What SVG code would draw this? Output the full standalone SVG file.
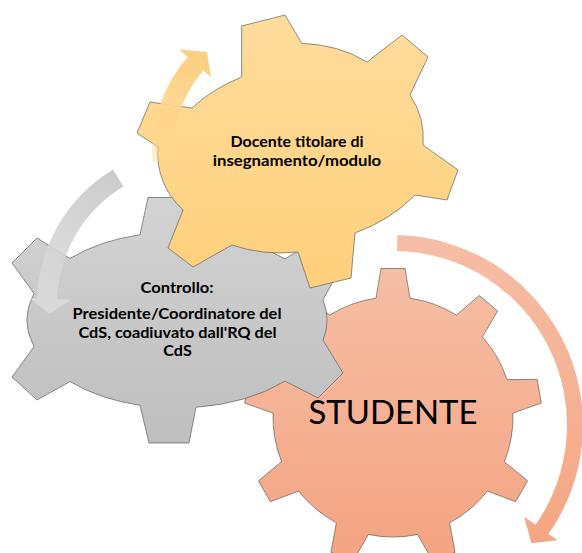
<svg xmlns="http://www.w3.org/2000/svg" width="582" height="553" viewBox="0 0 582 553">
  <defs>
    <linearGradient id="gOrange" x1="0" y1="0" x2="0" y2="1">
      <stop offset="0" stop-color="#F6BEA5"/>
      <stop offset="1" stop-color="#F4A481"/>
    </linearGradient>
    <linearGradient id="gYellow" x1="0" y1="0" x2="0" y2="1">
      <stop offset="0" stop-color="#FFDC9C"/>
      <stop offset="1" stop-color="#FFD07B"/>
    </linearGradient>
    <linearGradient id="gGrey" x1="0" y1="0" x2="0" y2="1">
      <stop offset="0" stop-color="#D3D3D3"/>
      <stop offset="1" stop-color="#BEBEBE"/>
    </linearGradient>
    <linearGradient id="aOrange" gradientUnits="userSpaceOnUse" x1="0" y1="235" x2="0" y2="545">
      <stop offset="0" stop-color="#F6BEA6"/>
      <stop offset="1" stop-color="#F4A683"/>
    </linearGradient>
    <linearGradient id="aYellow" gradientUnits="userSpaceOnUse" x1="163" y1="162" x2="195" y2="60">
      <stop offset="0" stop-color="#FFD68A" stop-opacity="0.4"/>
      <stop offset="0.5" stop-color="#FED48A" stop-opacity="0.9"/>
      <stop offset="1" stop-color="#FCCF82" stop-opacity="1"/>
    </linearGradient>
    <linearGradient id="aGrey" gradientUnits="userSpaceOnUse" x1="118" y1="178" x2="45" y2="300">
      <stop offset="0" stop-color="#C9C9C9" stop-opacity="0.95"/>
      <stop offset="1" stop-color="#DCDCDC" stop-opacity="0.85"/>
    </linearGradient>
  </defs>
  <style>
    .gear { stroke: #5a5a5a; stroke-width: 0.8; stroke-opacity: 0.85; stroke-linejoin: miter; }
    .lbl { font-family: Lato, "Open Sans", "Liberation Sans", sans-serif; font-weight: bold; font-size: 15.5px; fill: #000; text-anchor: middle; }
    .big { font-family: Lato, "Open Sans", "Liberation Sans", sans-serif; font-size: 33.5px; fill: #000; text-anchor: middle; }
    .arrow { stroke: none; }
  </style>

  <g id="gear-studente">
    <path class="gear" fill="url(#gOrange)" d="M376,298.2 L381,268.5 L405,268.5 L410,298.2 A120,120 0 0 1 456.35,315.07 L479.26,295.54 L497.64,310.96 L482.39,336.93 A120,120 0 0 1 507.05,379.63 L537.16,379.4 L541.32,403.04 L512.95,413.11 A120,120 0 0 1 504.38,461.68 L527.6,480.86 L515.6,501.64 L487.38,491.12 A120,120 0 0 1 449.6,522.83 L455.07,552.45 L432.51,560.65 L417.66,534.45 A120,120 0 0 1 368.34,534.45 L353.49,560.65 L330.93,552.45 L336.4,522.83 A120,120 0 0 1 298.62,491.12 L270.4,501.64 L258.4,480.86 L281.62,461.68 A120,120 0 0 1 273.05,413.11 L244.68,403.04 L248.84,379.4 L278.95,379.63 A120,120 0 0 1 303.61,336.93 L288.36,310.96 L306.74,295.54 L329.65,315.07 A120,120 0 0 1 376,298.2 Z"/>
    <text class="big" x="393" y="424" textLength="169" lengthAdjust="spacingAndGlyphs">STUDENTE</text>
  </g>

  <g id="gear-controllo">
    <path class="gear" fill="url(#gGrey)" d="M140,234.7 L148,197.5 L180,197.5 L188,232.6 A150,88 0 0 1 285,258.9 L318,239 L343,264 L323,299.7 A150,88 0 0 1 323,340.3 L343,373 L318,398 L285,381.1 A150,88 0 0 1 196,407.3 L189,443 L149,443 L140,405.3 A150,88 0 0 1 70,381.6 L37,400 L12,377 L34,346.6 A150,88 0 0 1 34,293.4 L12,263 L37,238 L70,258.4 A150,88 0 0 1 140,234.7 Z"/>
    <text class="lbl" x="177" y="293" textLength="73" lengthAdjust="spacingAndGlyphs">Controllo:</text>
    <text class="lbl" x="177" y="319" textLength="209" lengthAdjust="spacingAndGlyphs">Presidente/Coordinatore del</text>
    <text class="lbl" x="177.5" y="338" textLength="198" lengthAdjust="spacingAndGlyphs">CdS, coadiuvato dall'RQ del</text>
    <text class="lbl" x="177.5" y="356" textLength="28.5" lengthAdjust="spacingAndGlyphs">CdS</text>
  </g>

  <g id="gear-docente">
    <path class="gear" fill="url(#gYellow)" d="M241.7,77 L241.7,26 L285,15 L301.7,43.3 A133,100 -15 0 1 367,62 L402,35 L428,57 L410,95 A133,100 -15 0 1 423,145 L458,170 L447,200 L415,195 A133,100 -15 0 1 355,233 L351,278 L310,288 L298,252 A133,100 -15 0 1 232,245 L193,267 L168,248 L183,210 A133,100 -15 0 1 158,147 L137,133 L150,102 L192,108 A133,100 -15 0 1 241.7,77 Z"/>
    <text class="lbl" x="297" y="147" textLength="133" lengthAdjust="spacingAndGlyphs">Docente titolare di</text>
    <text class="lbl" x="297" y="165.5" textLength="168.5" lengthAdjust="spacingAndGlyphs">insegnamento/modulo</text>
  </g>

  <g id="connectors">
    <path id="arrow-studente" class="arrow" fill="url(#aOrange)" d="M397.3,235.1 A190,190 0 0 1 548.6,534 L557.7,540.3 L531.4,543.2 L524.1,516.8 L535.5,524.8 A174,174 0 0 0 397,251 Z"/>
    <path id="arrow-docente" class="arrow" fill="url(#aYellow)" d="M152.35,162.1 A145,145 0 0 1 187.6,56.9 L179.3,49.6 L207,52.1 L211,77.2 L203.4,70.6 A124,124 0 0 0 173.3,160.7 Z"/>
    <path id="arrow-controllo" class="arrow" fill="url(#aGrey)" d="M113.1,169.4 A157,157 0 0 0 37.1,298.5 L30.1,298.3 L49.3,314.1 L71.1,299.7 L57.1,299.2 A137,137 0 0 1 123.4,186.6 Z"/>
  </g>
</svg>
